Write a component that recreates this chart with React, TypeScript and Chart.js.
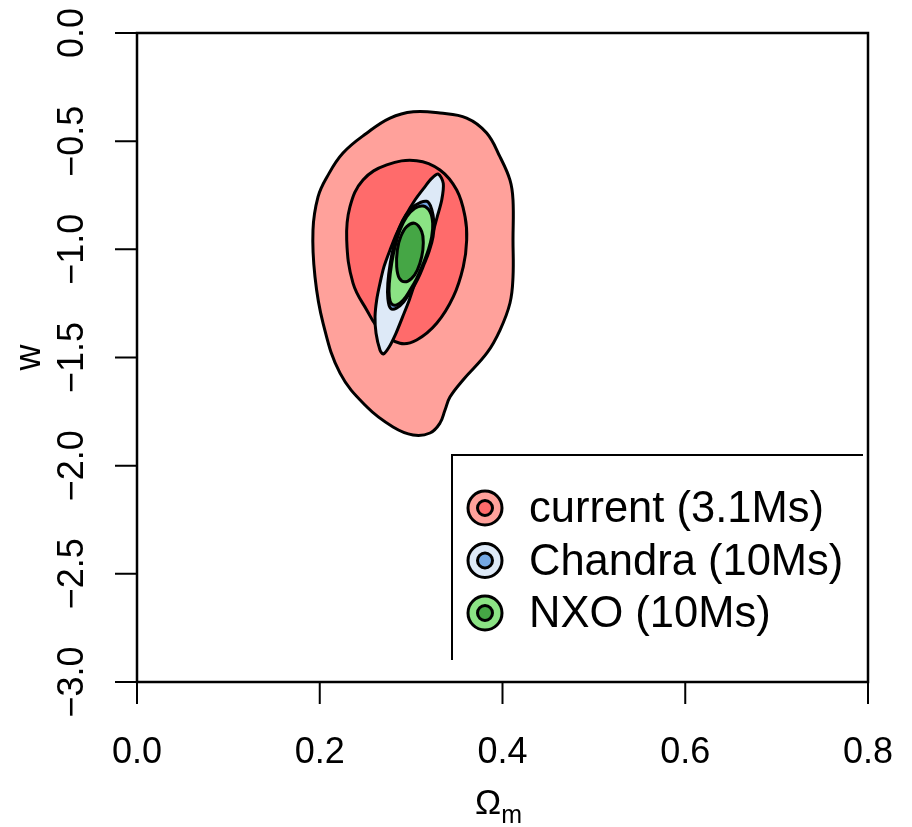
import React, { useEffect, useRef } from 'react';
import { Chart, registerables } from 'chart.js';

Chart.register(...registerables);

// Axis ticks
const xTicks = [0, 0.2, 0.4, 0.6, 0.8];
const xTickLabels = ['0.0', '0.2', '0.4', '0.6', '0.8'];
const yTicks = [0, -0.5, -1, -1.5, -2, -2.5, -3];
const yTickLabels = ['0.0', '\u22120.5', '\u22121.0', '\u22121.5', '\u22122.0', '\u22122.5', '\u22123.0'];

// Legend entries and their (outer, inner) fill colours
const legendLabels = ['current (3.1Ms)', 'Chandra (10Ms)', 'NXO (10Ms)'];
const outerColors = ['#FFA19B', '#DDE9F7', '#8BE384'];
const innerColors = ['#FF6B6B', '#74A8E4', '#45A645'];

// Confidence contours in the (Omega_m, w) plane, as [Omega_m, w] vertices
const current2sigma: [number, number][] = [
  [0.3024, -0.364], [0.3316, -0.370], [0.3608, -0.393], [0.3827, -0.462],
  [0.3973, -0.573], [0.4082, -0.680], [0.4115, -0.772], [0.4115, -0.957],
  [0.4115, -1.128], [0.4082, -1.248], [0.3973, -1.373], [0.3830, -1.479],
  [0.3568, -1.604], [0.3425, -1.683], [0.3371, -1.743], [0.3316, -1.803],
  [0.3207, -1.849], [0.3021, -1.858], [0.2802, -1.821], [0.2517, -1.729],
  [0.2222, -1.572], [0.2036, -1.341], [0.1948, -1.128], [0.1926, -0.911],
  [0.1981, -0.758], [0.2079, -0.666], [0.2254, -0.555], [0.2517, -0.462],
  [0.2769, -0.393],
];

const current1sigma: [number, number][] = [
  [0.3061, -0.590], [0.3316, -0.633], [0.3499, -0.726], [0.3590, -0.849],
  [0.3608, -0.957], [0.3571, -1.080], [0.3462, -1.219], [0.3280, -1.342],
  [0.3061, -1.419], [0.2878, -1.434], [0.2659, -1.373], [0.2514, -1.280],
  [0.2364, -1.156], [0.2295, -0.957], [0.2331, -0.803], [0.2473, -0.680],
  [0.2733, -0.610],
];

const chandra2sigma: [number, number][] = [
  [0.3297, -0.652], [0.3352, -0.695], [0.3335, -0.772], [0.3286, -0.849],
  [0.3225, -0.942], [0.3170, -1.003], [0.3116, -1.080], [0.3042, -1.157],
  [0.2980, -1.234], [0.2908, -1.311], [0.2834, -1.388], [0.2761, -1.450],
  [0.2695, -1.484], [0.2659, -1.465], [0.2616, -1.388], [0.2605, -1.311],
  [0.2623, -1.234], [0.2659, -1.157], [0.2703, -1.080], [0.2769, -1.003],
  [0.2842, -0.926], [0.2933, -0.849], [0.3042, -0.772], [0.3152, -0.710],
  [0.3225, -0.672],
];

const chandra1sigma: [number, number][] = [
  [0.3170, -0.778], [0.3225, -0.815], [0.3250, -0.880], [0.3240, -0.942],
  [0.3200, -1.005], [0.3143, -1.068], [0.3070, -1.140], [0.2995, -1.195],
  [0.2920, -1.242], [0.2840, -1.272], [0.2775, -1.272], [0.2745, -1.225],
  [0.2745, -1.157], [0.2772, -1.063], [0.2810, -0.985], [0.2866, -0.905],
  [0.2945, -0.840], [0.3045, -0.796],
];

const nxo2sigma: [number, number][] = [
  [0.3133, -0.800], [0.3207, -0.826], [0.3236, -0.880], [0.3225, -0.942],
  [0.3188, -1.003], [0.3133, -1.065], [0.3061, -1.134], [0.2988, -1.188],
  [0.2914, -1.234], [0.2842, -1.257], [0.2787, -1.253], [0.2761, -1.219],
  [0.2761, -1.157], [0.2787, -1.065], [0.2824, -0.988], [0.2878, -0.911],
  [0.2952, -0.849], [0.3042, -0.810],
];

const nxo1sigma: [number, number][] = [
  [0.3042, -0.880], [0.3116, -0.918], [0.3133, -0.972], [0.3116, -1.034],
  [0.3068, -1.096], [0.3006, -1.134], [0.2933, -1.150], [0.2871, -1.134],
  [0.2842, -1.080], [0.2849, -1.003], [0.2886, -0.942], [0.2952, -0.895],
];

const FONT = '"Liberation Sans", Arial, Helvetica, sans-serif';
const TICK = 22;

const toPoints = (c: [number, number][]) => c.map(([x, y]) => ({ x, y }));

// Treat every line dataset as a closed loop and fill its interior before stroking.
const closedContours = {
  id: 'closedContours',
  afterDatasetsUpdate(chart: any) {
    chart.data.datasets.forEach((_: any, i: number) => {
      const line = chart.getDatasetMeta(i).dataset;
      if (!line) return;
      line._loop = true;
      line._fullLoop = true;
      delete line._segments;
      delete line._path;
      line._pointsUpdated = false;
    });
  },
  beforeDatasetDraw(chart: any, args: any) {
    const line = args.meta.dataset;
    const ds = chart.data.datasets[args.index];
    if (!line) return;
    line.updateControlPoints(chart.chartArea, 'x');
    const ctx = chart.ctx;
    ctx.save();
    ctx.beginPath();
    line.path(ctx);
    ctx.closePath();
    ctx.fillStyle = ds.backgroundColor;
    ctx.fill();
    ctx.restore();
  },
};

// Box, outward ticks, rotated y labels, axis titles and legend.
const frame = {
  id: 'frame',
  afterDraw(chart: any) {
    const { ctx, chartArea: a, scales } = chart;
    const xs = scales.x;
    const ys = scales.y;
    ctx.save();
    ctx.strokeStyle = '#000';
    ctx.lineWidth = 2.5;
    ctx.strokeRect(a.left, a.top, a.right - a.left, a.bottom - a.top);

    ctx.lineWidth = 2;
    ctx.beginPath();
    xTicks.forEach((v) => {
      const px = xs.getPixelForValue(v);
      ctx.moveTo(px, a.bottom);
      ctx.lineTo(px, a.bottom + TICK);
    });
    yTicks.forEach((v) => {
      const py = ys.getPixelForValue(v);
      ctx.moveTo(a.left, py);
      ctx.lineTo(a.left - TICK, py);
    });
    ctx.stroke();

    ctx.fillStyle = '#000';
    ctx.font = `36px ${FONT}`;
    ctx.textAlign = 'center';
    ctx.textBaseline = 'alphabetic';
    xTicks.forEach((v, i) => {
      ctx.fillText(xTickLabels[i], xs.getPixelForValue(v), a.bottom + 81);
    });
    yTicks.forEach((v, i) => {
      ctx.save();
      ctx.translate(a.left - 54, ys.getPixelForValue(v));
      ctx.rotate(-Math.PI / 2);
      ctx.fillText(yTickLabels[i], 0, 0);
      ctx.restore();
    });

    // y title
    ctx.save();
    ctx.translate(40, (a.top + a.bottom) / 2);
    ctx.rotate(-Math.PI / 2);
    ctx.fillText('w', 0, 0);
    ctx.restore();

    // x title: Omega with subscript m
    ctx.font = `35px ${FONT}`;
    const wOm = ctx.measureText('\u03A9').width;
    ctx.font = `25px ${FONT}`;
    const wSub = ctx.measureText('m').width;
    const cx = (a.left + a.right) / 2 - 4;
    const x0 = cx - (wOm + wSub) / 2;
    ctx.textAlign = 'left';
    ctx.font = `35px ${FONT}`;
    ctx.fillText('\u03A9', x0, 814);
    ctx.font = `25px ${FONT}`;
    ctx.fillText('m', x0 + wOm, 823);

    // legend frame (top and left edges)
    ctx.lineWidth = 2;
    ctx.beginPath();
    ctx.moveTo(863, 455);
    ctx.lineTo(452, 455);
    ctx.lineTo(452, 660);
    ctx.stroke();

    legendLabels.forEach((label, i) => {
      const cy = 508 + i * 52.5;
      ctx.lineWidth = 3;
      ctx.beginPath();
      ctx.arc(485, cy, 17, 0, Math.PI * 2);
      ctx.fillStyle = outerColors[i];
      ctx.fill();
      ctx.stroke();
      ctx.beginPath();
      ctx.arc(485, cy, 7.5, 0, Math.PI * 2);
      ctx.fillStyle = innerColors[i];
      ctx.fill();
      ctx.stroke();
      ctx.fillStyle = '#000';
      ctx.font = `43.5px ${FONT}`;
      ctx.textAlign = 'left';
      ctx.fillText(label, 529, cy + 14);
    });
    ctx.restore();
  },
};

export default function App() {
  const canvasRef = useRef<HTMLCanvasElement | null>(null);

  useEffect(() => {
    if (!canvasRef.current) return;
    const contour = (
      label: string,
      pts: [number, number][],
      color: string,
      order: number,
      tension = 0.4
    ) => ({
      label,
      data: toPoints(pts),
      backgroundColor: color,
      borderColor: '#000',
      borderWidth: 3,
      pointRadius: 0,
      pointHoverRadius: 0,
      fill: false,
      tension,
      order,
    });

    const chart = new Chart(canvasRef.current, {
      type: 'line',
      data: {
        datasets: [
          contour('current 95%', current2sigma, outerColors[0], 6),
          contour('current 68%', current1sigma, innerColors[0], 5),
          contour('Chandra 95%', chandra2sigma, outerColors[1], 4, 0.3),
          contour('Chandra 68%', chandra1sigma, innerColors[1], 3),
          contour('NXO 95%', nxo2sigma, outerColors[2], 2),
          contour('NXO 68%', nxo1sigma, innerColors[2], 1),
        ],
      },
      options: {
        responsive: false,
        animation: false,
        events: [],
        layout: { padding: { left: 137, right: 44, top: 33, bottom: 145 } },
        scales: {
          x: { type: 'linear', min: 0, max: 0.8, display: false },
          y: { type: 'linear', min: -3, max: 0, display: false },
        },
        plugins: {
          legend: { display: false },
          tooltip: { enabled: false },
        },
      },
      plugins: [closedContours, frame],
    });
    return () => chart.destroy();
  }, []);

  return (
    <div style={{ position: 'fixed', left: 0, top: 0, width: 912, height: 827, background: '#fff' }}>
      <canvas ref={canvasRef} width={912} height={827} style={{ display: 'block' }} />
    </div>
  );
}
